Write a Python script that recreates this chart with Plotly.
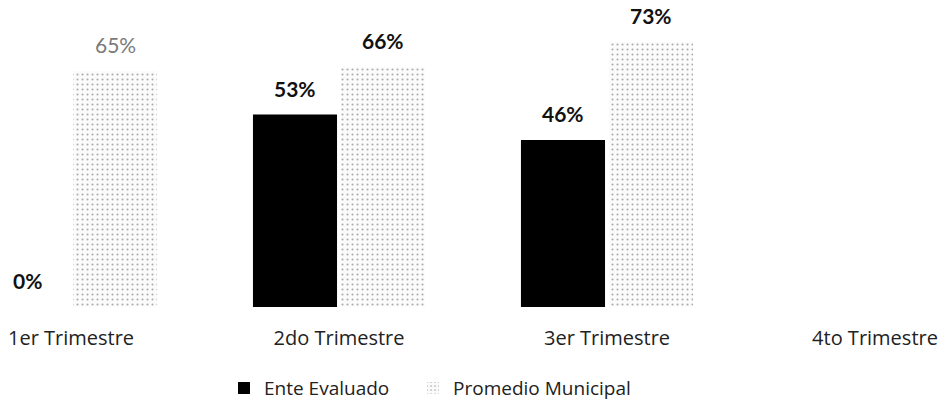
import plotly.graph_objects as go

categories = ["1er Trimestre", "2do Trimestre", "3er Trimestre", "4to Trimestre"]
ente_evaluado = [0, 53, 46, None]
promedio_municipal = [65, 66, 73, None]
series_names = ["Ente Evaluado", "Promedio Municipal"]

label_font = "Lato"
fig = go.Figure()
fig.add_trace(go.Bar(
    name=series_names[0], x=categories, y=ente_evaluado, legend="legend",
    marker=dict(color="#000000", line=dict(width=0)),
))
fig.add_trace(go.Bar(
    name=series_names[1], x=categories, y=promedio_municipal, legend="legend2",
    marker=dict(color="#f3f3f3", line=dict(width=0),
                pattern=dict(shape=".", fgcolor="#5a5a5a", bgcolor="#fbfbfb",
                             size=5, solidity=0.14)),
))

# data labels placed from the data values, offset to each bar of the group
annotations = []
for series, xshift in ((ente_evaluado, -44), (promedio_municipal, 44)):
    for j, (cat, val) in enumerate(zip(categories, series)):
        if val is None:
            continue
        faded = series is promedio_municipal and j == 0
        annotations.append(dict(
            x=cat, y=val, xref="x", yref="y", text=f"{val}%", showarrow=False,
            xshift=xshift, yshift=12, yanchor="bottom",
            font=dict(family=label_font, size=21,
                      color="#7a7a7a" if faded else "#111111",
                      weight="normal" if faded else "bold"),
        ))

legend_style = dict(orientation="h", y=-0.266, yanchor="middle", xanchor="left",
                    font=dict(family="Open Sans", size=19, color="#222222"),
                    itemwidth=30, bgcolor="rgba(0,0,0,0)")
fig.update_layout(
    width=942, height=406,
    margin=dict(l=0, r=0, t=2, b=99, autoexpand=False),
    paper_bgcolor="white", plot_bgcolor="white",
    barmode="group", bargap=0.343, bargroupgap=0.045,
    showlegend=True,
    legend=dict(x=0.2378, **legend_style),
    legend2=dict(x=0.4385, **legend_style),
    font=dict(family="Open Sans", color="#222222"),
    hovermode=False,
    annotations=annotations,
)
fig.update_xaxes(range=[-0.265, 3.25], showgrid=False, showline=False, zeroline=False,
                 ticks="", tickfont=dict(family="Open Sans", size=20, color="#222222"),
                 ticklabelstandoff=17)
fig.update_yaxes(range=[0, 84], visible=False, showgrid=False, zeroline=False)

fig.write_html("out.html", config={"displayModeBar": False},
               post_script="document.body.style.margin='0';")
